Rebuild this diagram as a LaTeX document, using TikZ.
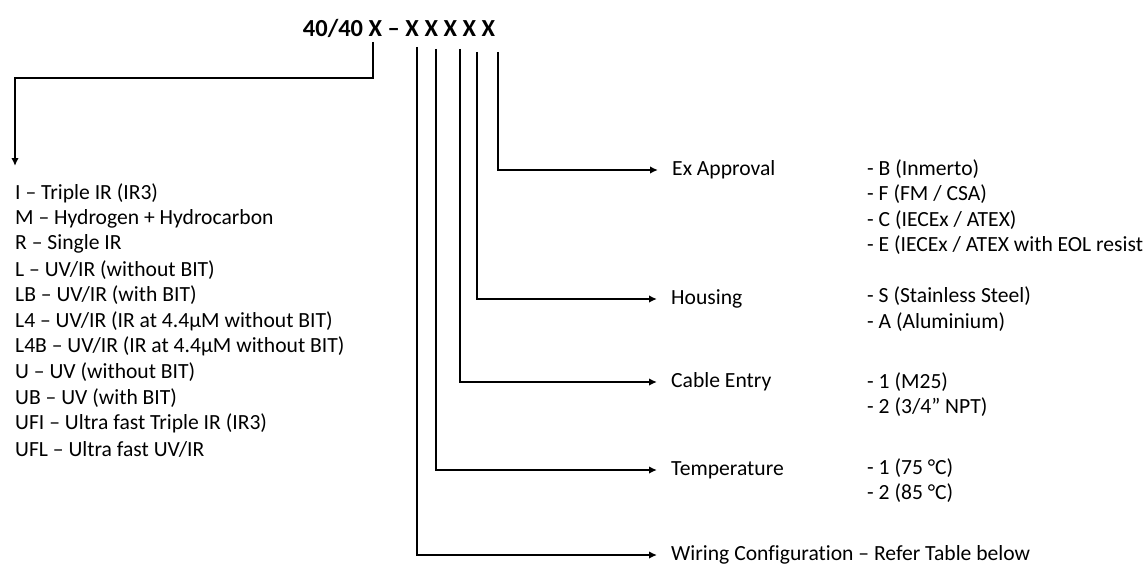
\documentclass[tikz,border=0pt]{standalone}
\usepackage{fontspec}
\setmainfont{Carlito}[Ligatures={NoCommon}]
\usetikzlibrary{arrows.meta}
\begin{document}
\begin{tikzpicture}[x=1pt,y=-1pt,
  wire/.style={line width=2pt,line join=miter,-{Latex[length=8pt,width=7.5pt]}},
  txt/.style={font=\fontsize{21.6}{26}\selectfont,inner sep=0pt,anchor=west},
  lbl/.style={font=\fontsize{21.6}{26}\selectfont,inner ysep=0pt,inner xsep=14pt,anchor=west},
  ttl/.style={font=\fontsize{24.5}{29}\selectfont\bfseries,inner sep=0pt}]
\useasboundingbox (0,0) rectangle (1147,567);
\node[ttl] (title) at (399,28) {40/40 X -- X X X X X};
% tops of the lines under the code letters
\coordinate (t0) at (373,42);
\coordinate (t1) at (417,47);
\coordinate (t2) at (436,49);
\coordinate (t3) at (460,49);
\coordinate (t4) at (477,52);
\coordinate (t5) at (498,52);
\coordinate (c0) at (15,78);
\coordinate (ltip) at (15,166);
% left list
\foreach \n/\y/\t in {
  1/193/{I -- Triple IR (IR3)},
  2/218.6/{M -- Hydrogen + Hydrocarbon},
  3/244.2/{R -- Single IR},
  4/269.8/{L -- UV/IR (without BIT)},
  5/295.4/{LB -- UV/IR (with BIT)},
  6/321/{L4 -- UV/IR (IR at 4.4µM without BIT)},
  7/346.6/{L4B -- UV/IR (IR at 4.4µM without BIT)},
  8/372.2/{U -- UV (without BIT)},
  9/397.8/{UB -- UV (with BIT)},
  10/423.4/{UFI -- Ultra fast Triple IR (IR3)},
  11/449/{UFL -- Ultra fast UV/IR}}
  \node[txt] (l\n) at (15,\y) {\t};
% labels
\node[lbl] (ex)   at (658,170) {Ex Approval};
\node[lbl] (hou)  at (657,299) {Housing};
\node[lbl] (cab)  at (657,382) {Cable Entry};
\node[lbl] (tem)  at (657,470) {Temperature};
\node[lbl] (wir)  at (657,555) {Wiring Configuration -- Refer Table below};
% values
\node[txt] (exb) at (867,169) {- B (Inmerto)};
\node[txt] (exf) at (867,194.5) {- F (FM / CSA)};
\node[txt] (exc) at (867,220) {- C (IECEx / ATEX)};
\node[txt] (exe) at (867,245.5) {- E (IECEx / ATEX with EOL resist};
\node[txt] (hs) at (867,296) {- S (Stainless Steel)};
\node[txt] (ha) at (867,322) {- A (Aluminium)};
\node[txt] (c1) at (867,382) {- 1 (M25)};
\node[txt] (c2) at (867,407) {- 2 (3/4” NPT)};
\node[txt] (te1) at (867,468) {- 1 (75 °C)};
\node[txt] (te2) at (867,493) {- 2 (85 °C)};
% connectors
\draw[wire] (t0) |- (c0) -- (ltip);
\draw[wire] (t5) |- (ex.west);
\draw[wire] (t4) |- (hou.west);
\draw[wire] (t3) |- (cab.west);
\draw[wire] (t2) |- (tem.west);
\draw[wire] (t1) |- (wir.west);
\end{tikzpicture}
\end{document}
